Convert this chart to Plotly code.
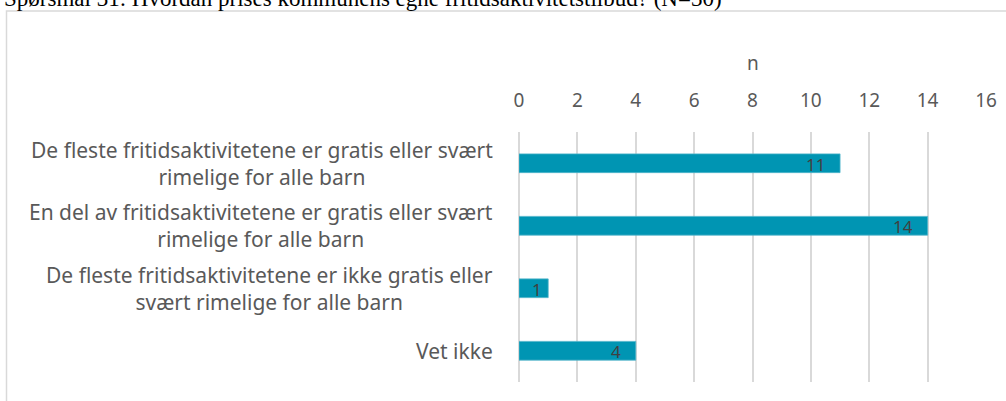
import plotly.graph_objects as go

# Survey answers and counts
categories = [
    "De fleste fritidsaktivitetene er gratis eller svært<br>rimelige for alle barn",
    "En del av fritidsaktivitetene er gratis eller svært<br>rimelige for alle barn",
    "De fleste fritidsaktivitetene er ikke gratis eller<br>svært rimelige for alle barn",
    "Vet ikke",
]
counts = [11, 14, 1, 4]
x_ticks = [0, 2, 4, 6, 8, 10, 12, 14, 16]

title_text = "Spørsmål 31: Hvordan prises kommunens egne fritidsaktivitetstilbud? (N=30)"

W, H = 1006, 401
BAR = "#0095B3"
GRID = "#d9d9d9"
TXT = "#595959"
FONT = "Noto Sans"
LABEL_SIZE = 21
PLOT_L, PLOT_R = 519, 986
X_MAX = 16

def px_x(p):
    return p / W

def px_y(p):
    return 1 - p / H

fig = go.Figure()
fig.add_trace(go.Bar(
    x=counts,
    y=categories,
    orientation="h",
    marker=dict(color=BAR, line=dict(color="#4fb4c9", width=0.8)),
    width=0.3,
    cliponaxis=False,
    hoverinfo="skip",
))

# Value labels near the inner end of each bar (less padding on short bars)
px_per_unit = (PLOT_R - PLOT_L) / X_MAX
for cat, v in zip(categories, counts):
    pad = 13 if v * px_per_unit > 60 else 4
    fig.add_annotation(
        x=v, xref="x", xanchor="right", xshift=-pad,
        y=cat, yref="y", yanchor="middle", yshift=-1,
        text=str(v), showarrow=False,
        font=dict(family=FONT, size=17, color="#404040"),
    )

# Category labels: right-aligned block, wrapped lines centred
for cat in categories:
    fig.add_annotation(
        x=px_x(495), xref="paper", xanchor="right",
        y=cat, yref="y", yanchor="middle",
        text=cat, align="center", showarrow=False,
        font=dict(family=FONT, size=LABEL_SIZE, color=TXT),
    )

# Axis title
fig.add_annotation(
    x=0.5 * (px_x(PLOT_L) + px_x(PLOT_R)), xref="paper", xanchor="center",
    y=px_y(63), yref="paper", yanchor="middle",
    text="n", showarrow=False,
    font=dict(family=FONT, size=19, color=TXT),
)

# Chart title, partly above the page edge
fig.add_annotation(
    x=px_x(2), xref="paper", xanchor="left",
    y=px_y(13), yref="paper", yanchor="bottom",
    text=title_text, showarrow=False,
    font=dict(family="Liberation Serif", size=23, color="#000000"),
)

# Outer chart frame
fig.add_shape(
    type="rect", xref="paper", yref="paper",
    x0=px_x(6.5), x1=1.02, y0=-0.02, y1=px_y(11),
    line=dict(color=GRID, width=1.5), fillcolor="rgba(0,0,0,0)", layer="below",
)

fig.update_layout(
    width=W, height=H,
    margin=dict(l=0, r=0, t=0, b=0, autoexpand=False),
    paper_bgcolor="white", plot_bgcolor="white",
    showlegend=False,
    xaxis=dict(
        domain=[px_x(PLOT_L), px_x(PLOT_R)],
        range=[0, X_MAX], side="top", automargin=False,
        tickvals=x_ticks, ticktext=[str(t) for t in x_ticks],
        tickfont=dict(family=FONT, size=19, color=TXT),
        showgrid=True, gridcolor=GRID, gridwidth=1.5,
        zeroline=True, zerolinecolor=GRID, zerolinewidth=1.5,
        showline=False, ticks="", ticklabelstandoff=20,
        fixedrange=True,
    ),
    yaxis=dict(
        domain=[px_y(382), px_y(132)],
        autorange="reversed", automargin=False,
        showticklabels=False, showgrid=False, zeroline=False,
        showline=False, ticks="",
        fixedrange=True,
    ),
)

fig.write_html("out.html")
